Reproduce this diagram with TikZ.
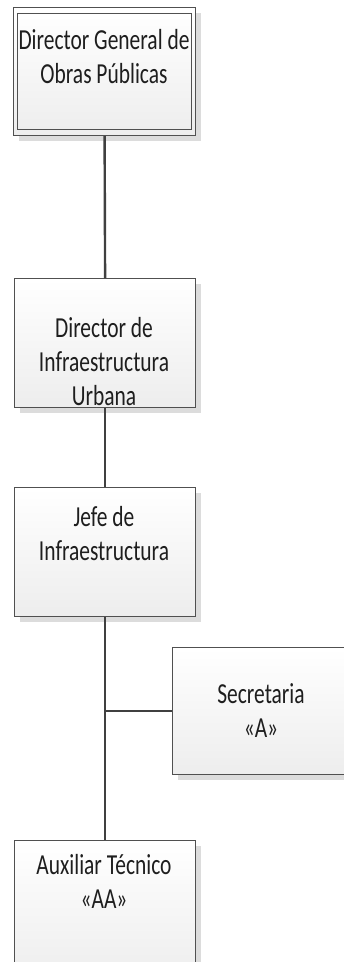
\documentclass[tikz,border=0pt]{standalone}
\usepackage{fontspec}
\setmainfont{Carlito}[FakeStretch=0.74]
\usetikzlibrary{shadows}
\definecolor{edge}{HTML}{505050}
\definecolor{wire}{HTML}{404040}
\definecolor{shade}{HTML}{DCDCDC}
\definecolor{ink}{HTML}{1E1E1E}
\tikzset{
  box/.style={draw=edge, line width=1.2pt, rectangle, anchor=north west,
    top color=white, bottom color=black!7, inner sep=0pt,
    drop shadow={shadow xshift=5pt, shadow yshift=-5pt, fill=shade, opacity=1}},
  lbl/.style={align=center, text=ink, inner sep=0pt, anchor=base,
    font=\fontsize{29}{34}\selectfont},
  wireline/.style={draw=wire, line width=2.4pt}
}
\begin{document}
\begin{tikzpicture}[x=1pt,y=-1pt]
\useasboundingbox (0,0) rectangle (344,962);
\clip (0,0) rectangle (344,962);
\fill[white] (0,0) rectangle (344,962);
% boxes
\node[box, minimum width=182pt, minimum height=128pt] (b1) at (13,7) {};
\node[draw=edge, line width=1.2pt, rectangle, anchor=north west, inner sep=0pt,
  minimum width=174pt, minimum height=116pt] (b1i) at (17,13) {};
\node[box, minimum width=181pt, minimum height=129pt] (b2) at (14,278) {};
\node[box, minimum width=181pt, minimum height=129pt] (b3) at (14,487) {};
\node[box, minimum width=178pt, minimum height=127pt] (b4) at (172,647) {};
\node[box, minimum width=181pt, minimum height=140pt] (b5) at (14,840) {};
% connectors
\draw[wireline] (b1.south) -- (b2.north);
\draw[wireline] (b2.south) -- (b3.north);
\draw[wireline] (b3.south) -- (b5.north);
\coordinate (j) at (b4.west -| b3.south);
\draw[wireline] (j) -- (b4.west);
% labels (anchor base = baseline of last line)
\node[lbl] (t1) at (104,83) {Director General de\\Obras Públicas};
\node[lbl] (t2) at (104,405) {Director de\\Infraestructura\\Urbana};
\node[lbl] (t3) at (104,560) {Jefe de\\Infraestructura};
\node[lbl] (t4) at (261,737) {Secretaria\\«A»};
\node[lbl] (t5) at (104,908) {Auxiliar Técnico\\«AA»};
\end{tikzpicture}
\end{document}
